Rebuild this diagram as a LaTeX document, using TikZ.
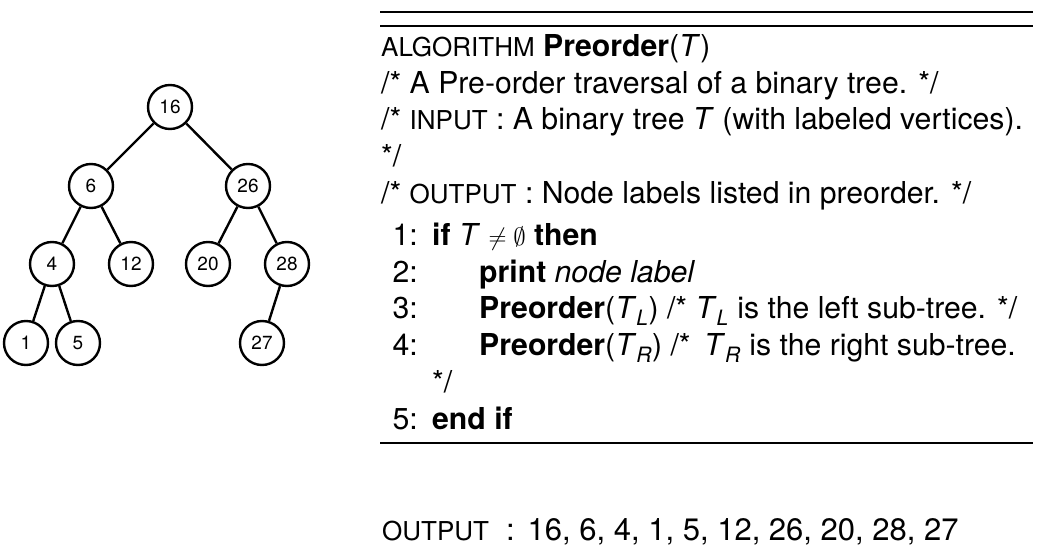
\documentclass[tikz,border=0pt]{standalone}
\usepackage{fontspec}
\setmainfont{TeX Gyre Heros}
\newcommand{\fakesc}[1]{{\fontsize{26}{30}\selectfont #1}}
\newcommand{\itT}{\textit{T}}
\newcommand{\subsc}[1]{\textsubscript{\itshape #1}}
\begin{document}
\begin{tikzpicture}[x=1pt,y=-1pt,
  vertex/.style={draw,circle,line width=2.4pt,minimum size=44pt,inner sep=0pt,
    font=\fontsize{19}{19}\selectfont},
  edge/.style={line width=2.4pt},
  txt/.style={anchor=base west,inner sep=0pt,font=\fontsize{30.2}{36}\selectfont},
  num/.style={anchor=base east,inner sep=0pt,font=\fontsize{30.2}{36}\selectfont}]
\useasboundingbox (0,0) rectangle (1042,556);

% binary tree
\node[vertex] (n16) at (170,107) {16};
\node[vertex] (n6)  at (91,186)  {6};
\node[vertex] (n26) at (248,186) {26};
\node[vertex] (n4)  at (52,264)  {4};
\node[vertex] (n12) at (131,264) {12};
\node[vertex] (n20) at (208,264) {20};
\node[vertex] (n28) at (287,264) {28};
\node[vertex] (n1)  at (26,343)  {1};
\node[vertex] (n5)  at (78,343)  {5};
\node[vertex] (n27) at (262,343) {27};
\draw[edge] (n16) -- (n6);
\draw[edge] (n16) -- (n26);
\draw[edge] (n6) -- (n4);
\draw[edge] (n6) -- (n12);
\draw[edge] (n26) -- (n20);
\draw[edge] (n26) -- (n28);
\draw[edge] (n4) -- (n1);
\draw[edge] (n4) -- (n5);
\draw[edge] (n28) -- (n27);

% algorithm box rules
\coordinate (r1a) at (380,12);  \coordinate (r1b) at (1033,12);
\coordinate (r2a) at (380,26);  \coordinate (r2b) at (1033,26);
\coordinate (r3a) at (380,443); \coordinate (r3b) at (1033,443);
\draw[line width=2.2pt] (r1a) -- (r1b);
\draw[line width=1.1pt] (r2a) -- (r2b);
\draw[line width=1.1pt] (r3a) -- (r3b);

% algorithm header
\node[txt] (head) at (381,56.5) {\fakesc{ALGORITHM} \textbf{Preorder}(\itT)};
\node[txt] (c1) at (381,93.2) {/* A Pre-order traversal of a binary tree. */};
\node[txt] (c2) at (381,130) {/* \fakesc{INPUT} : A binary tree \itT\ (with labeled vertices).};
\node[txt] (c2b) at (381,166.7) {*/};
\node[txt] (c3) at (381,203.3) {/* \fakesc{OUTPUT} : Node labels listed in preorder. */};

% numbered steps
\node[num] (l1) at (418,245.7) {1:};
\node[txt] (s1) at (432,245.7) {\textbf{if} \itT\ $\neq\emptyset$ \textbf{then}};
\node[num] (l2) at (418,282.4) {2:};
\node[txt] (s2) at (479,282.4) {\textbf{print} \textit{node label}};
\node[num] (l3) at (418,319) {3:};
\node[txt] (s3) at (479,319) {\textbf{Preorder}(\itT\subsc{L}) /* \itT\subsc{L} is the left sub-tree. */};
\node[num] (l4) at (418,355.7) {4:};
\node[txt] (s4) at (479,355.7) {\textbf{Preorder}(\itT\subsc{R}) /* \,\itT\subsc{R} is the right sub-tree.};
\node[txt] (s4b) at (432,392.4) {*/};
\node[num] (l5) at (418,429) {5:};
\node[txt] (s5) at (432,429) {\textbf{end if}};

% resulting traversal
\node[txt,font=\fontsize{31}{36}\selectfont] (out) at (382,540.5)
  {\fakesc{OUTPUT}\hspace{17pt}:\hspace{13pt}16, 6, 4, 1, 5, 12, 26, 20, 28, 27};
\end{tikzpicture}
\end{document}
